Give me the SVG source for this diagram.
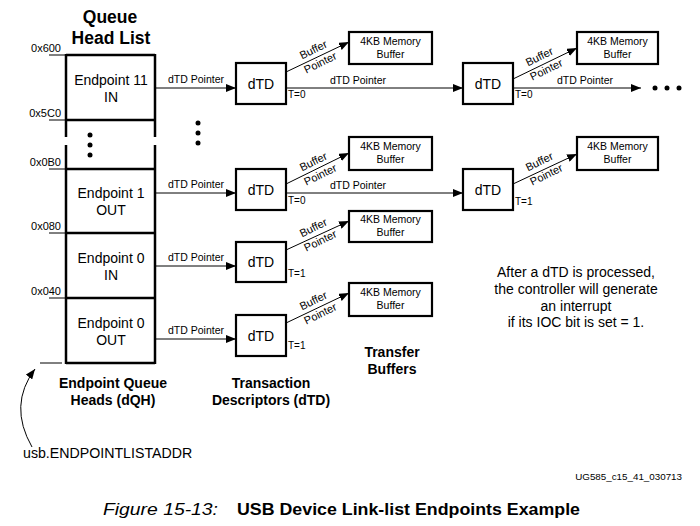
<svg xmlns="http://www.w3.org/2000/svg" width="700" height="526" viewBox="0 0 700 526">
<defs>
<marker id="ah" markerWidth="10" markerHeight="8" refX="10" refY="4" orient="auto" markerUnits="userSpaceOnUse">
<path d="M0,0 L10,4 L0,8 Z" fill="#000"/>
</marker>
<style>
text{font-family:"Liberation Sans",Arial,sans-serif;fill:#000}
.ep{font-size:14px;text-anchor:middle}
.addr{font-size:11px;text-anchor:end}
.ptr{font-size:10.5px;text-anchor:middle}
.dtd{font-size:14px;text-anchor:middle}
.mem{font-size:10.5px;text-anchor:middle}
.bp{font-size:11px;text-anchor:middle}
.t{font-size:10px}
.bold{font-weight:bold;text-anchor:middle}
.box{fill:#fff;stroke:#000;stroke-width:2.2}
.qh{stroke:#000;stroke-width:2.5;fill:none}
.conn{stroke:#000;stroke-width:1;fill:none}
.tick{stroke:#000;stroke-width:1}
</style>
</defs>
<rect width="700" height="526" fill="#fff"/>

<!-- Queue head list -->
<g id="queue-head-list">
<text class="bold" x="110" y="23" font-size="17.5">Queue</text>
<text class="bold" x="111" y="44" font-size="17.5">Head List</text>
<line class="qh" x1="66" y1="55" x2="155" y2="55"/>
<line class="qh" x1="66" y1="120" x2="155" y2="120"/>
<line class="qh" x1="66" y1="169" x2="155" y2="169"/>
<line class="qh" x1="66" y1="233" x2="155" y2="233"/>
<line class="qh" x1="66" y1="298" x2="155" y2="298"/>
<line class="qh" x1="66" y1="363" x2="155" y2="363"/>
<line class="qh" x1="66" y1="54" x2="66" y2="137"/>
<line class="qh" x1="155" y1="54" x2="155" y2="137"/>
<line class="qh" x1="66" y1="145" x2="66" y2="364"/>
<line class="qh" x1="155" y1="145" x2="155" y2="364"/>
<circle cx="90" cy="135" r="2.5"/>
<circle cx="90" cy="145" r="2.5"/>
<circle cx="90" cy="155" r="2.5"/>
</g>
<g id="addresses">
<text class="addr" x="61" y="52">0x600</text>
<line class="tick" x1="49" y1="55" x2="66" y2="55"/>
<text class="addr" x="61" y="117">0x5C0</text>
<line class="tick" x1="49" y1="120" x2="66" y2="120"/>
<text class="addr" x="61" y="166">0x0B0</text>
<line class="tick" x1="49" y1="169" x2="66" y2="169"/>
<text class="addr" x="61" y="230">0x080</text>
<line class="tick" x1="49" y1="233" x2="66" y2="233"/>
<text class="addr" x="61" y="295">0x040</text>
<line class="tick" x1="49" y1="298" x2="66" y2="298"/>
<line class="tick" x1="40" y1="363" x2="62" y2="363"/>
</g>
<g id="ep11-in"><text class="ep" x="111" y="85">Endpoint 11</text><text class="ep" x="111" y="102">IN</text></g>
<g id="ep1-out"><text class="ep" x="111" y="198">Endpoint 1</text><text class="ep" x="111" y="215">OUT</text></g>
<g id="ep0-in"><text class="ep" x="111" y="263">Endpoint 0</text><text class="ep" x="111" y="280">IN</text></g>
<g id="ep0-out"><text class="ep" x="111" y="328">Endpoint 0</text><text class="ep" x="111" y="345">OUT</text></g>

<!-- dTD nodes -->
<g id="dtd-r1c1"><rect class="box" x="236" y="63" width="50" height="41"/><text class="dtd" x="261" y="89">dTD</text></g>
<g id="dtd-r1c2"><rect class="box" x="463" y="63" width="50" height="41"/><text class="dtd" x="488" y="89">dTD</text></g>
<g id="dtd-r2c1"><rect class="box" x="236" y="169" width="50" height="41"/><text class="dtd" x="261" y="195">dTD</text></g>
<g id="dtd-r2c2"><rect class="box" x="463" y="169" width="50" height="41"/><text class="dtd" x="488" y="195">dTD</text></g>
<g id="dtd-r3"><rect class="box" x="236" y="242" width="50" height="40"/><text class="dtd" x="261" y="267">dTD</text></g>
<g id="dtd-r4"><rect class="box" x="236" y="315" width="50" height="41"/><text class="dtd" x="261" y="341">dTD</text></g>

<!-- Memory buffers -->
<g id="buf-r1c1"><rect class="box" x="349" y="32" width="83" height="32"/><text class="mem" x="390.5" y="45">4KB Memory</text><text class="mem" x="390.5" y="58">Buffer</text></g>
<g id="buf-r1c2"><rect class="box" x="577" y="32" width="81" height="32"/><text class="mem" x="617.5" y="45">4KB Memory</text><text class="mem" x="617.5" y="58">Buffer</text></g>
<g id="buf-r2c1"><rect class="box" x="349" y="137" width="83" height="33"/><text class="mem" x="390.5" y="150">4KB Memory</text><text class="mem" x="390.5" y="163">Buffer</text></g>
<g id="buf-r2c2"><rect class="box" x="577" y="137" width="81" height="33"/><text class="mem" x="617.5" y="150">4KB Memory</text><text class="mem" x="617.5" y="163">Buffer</text></g>
<g id="buf-r3"><rect class="box" x="349" y="211" width="83" height="31"/><text class="mem" x="390.5" y="223">4KB Memory</text><text class="mem" x="390.5" y="236">Buffer</text></g>
<g id="buf-r4"><rect class="box" x="349" y="283" width="83" height="33"/><text class="mem" x="390.5" y="296">4KB Memory</text><text class="mem" x="390.5" y="309">Buffer</text></g>

<!-- Connectors -->
<g id="connectors">
<line class="conn" x1="156" y1="88" x2="236" y2="88" marker-end="url(#ah)"/>
<line class="conn" x1="156" y1="193" x2="236" y2="193" marker-end="url(#ah)"/>
<line class="conn" x1="156" y1="266" x2="236" y2="266" marker-end="url(#ah)"/>
<line class="conn" x1="156" y1="339" x2="236" y2="339" marker-end="url(#ah)"/>
<line class="conn" x1="286" y1="88" x2="463" y2="88" marker-end="url(#ah)"/>
<line class="conn" x1="286" y1="193" x2="463" y2="193" marker-end="url(#ah)"/>
<line class="conn" x1="513" y1="88" x2="641" y2="88" marker-end="url(#ah)"/>
<line class="conn" x1="286" y1="72" x2="349" y2="42" marker-end="url(#ah)"/>
<line class="conn" x1="513" y1="79" x2="577" y2="48" marker-end="url(#ah)"/>
<line class="conn" x1="286" y1="184" x2="349" y2="153" marker-end="url(#ah)"/>
<line class="conn" x1="513" y1="184" x2="577" y2="154" marker-end="url(#ah)"/>
<line class="conn" x1="286" y1="250" x2="349" y2="221" marker-end="url(#ah)"/>
<line class="conn" x1="286" y1="323" x2="349" y2="293" marker-end="url(#ah)"/>
<path class="conn" d="M32,447 Q8,405 35,369" marker-end="url(#ah)"/>
</g>

<!-- Connector labels -->
<g id="labels">
<text class="ptr" x="196" y="83">dTD Pointer</text>
<text class="ptr" x="196" y="188">dTD Pointer</text>
<text class="ptr" x="196" y="261">dTD Pointer</text>
<text class="ptr" x="196" y="334">dTD Pointer</text>
<text class="ptr" x="358" y="84">dTD Pointer</text>
<text class="ptr" x="358" y="189">dTD Pointer</text>
<text class="ptr" x="585" y="84">dTD Pointer</text>
<text class="t" x="288" y="98">T=0</text>
<text class="t" x="288" y="204">T=0</text>
<text class="t" x="288" y="277">T=1</text>
<text class="t" x="288" y="349">T=1</text>
<text class="t" x="515" y="98">T=0</text>
<text class="t" x="515" y="205">T=1</text>

<text class="bp" x="315" y="53" transform="rotate(-26 315 53)">Buffer</text>
<text class="bp" x="322" y="66" transform="rotate(-26 322 66)">Pointer</text>
<text class="bp" x="541" y="60" transform="rotate(-26 541 60)">Buffer</text>
<text class="bp" x="548" y="73" transform="rotate(-26 548 73)">Pointer</text>
<text class="bp" x="315" y="165" transform="rotate(-26 315 165)">Buffer</text>
<text class="bp" x="322" y="178" transform="rotate(-26 322 178)">Pointer</text>
<text class="bp" x="541" y="165" transform="rotate(-26 541 165)">Buffer</text>
<text class="bp" x="548" y="178" transform="rotate(-26 548 178)">Pointer</text>
<text class="bp" x="315" y="231" transform="rotate(-26 315 231)">Buffer</text>
<text class="bp" x="322" y="244" transform="rotate(-26 322 244)">Pointer</text>
<text class="bp" x="315" y="304" transform="rotate(-26 315 304)">Buffer</text>
<text class="bp" x="322" y="317" transform="rotate(-26 322 317)">Pointer</text>
</g>

<g id="dots">
<circle cx="198" cy="123" r="2.5"/>
<circle cx="198" cy="133" r="2.5"/>
<circle cx="198" cy="143" r="2.5"/>
<circle cx="655" cy="88" r="2.5"/>
<circle cx="667" cy="88" r="2.5"/>
<circle cx="679" cy="88" r="2.5"/>
</g>

<g id="captions">
<text class="bold" x="113" y="388" font-size="14">Endpoint Queue</text>
<text class="bold" x="113" y="405" font-size="14">Heads (dQH)</text>
<text class="bold" x="271" y="388" font-size="14">Transaction</text>
<text class="bold" x="271" y="405" font-size="14">Descriptors (dTD)</text>
<text class="bold" x="392" y="357" font-size="14">Transfer</text>
<text class="bold" x="392" y="374" font-size="14">Buffers</text>
<g font-size="14" text-anchor="middle">
<text x="576" y="277">After a dTD is processed,</text>
<text x="576" y="294">the controller will generate</text>
<text x="576" y="311">an interrupt</text>
<text x="576" y="327">if its IOC bit is set = 1.</text>
</g>
<text x="23" y="458" font-size="14.2">usb.ENDPOINTLISTADDR</text>
<text x="682" y="480" font-size="9.8" text-anchor="end">UG585_c15_41_030713</text>
<text x="103" y="515" font-size="17" font-style="italic" textLength="115" lengthAdjust="spacingAndGlyphs">Figure 15-13:</text>
<text x="237" y="515" font-size="17" font-weight="bold" textLength="343" lengthAdjust="spacingAndGlyphs">USB Device Link-list Endpoints Example</text>
</g>
</svg>
